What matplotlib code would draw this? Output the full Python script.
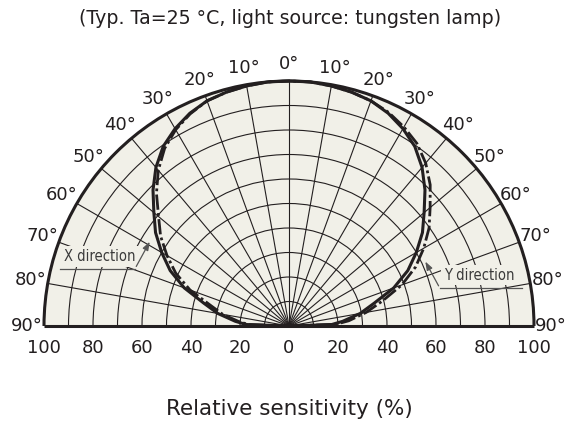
import numpy as np
import matplotlib.pyplot as plt
from matplotlib import font_manager
from matplotlib.patches import Wedge, Arc

# angle from the 0° axis (deg), negative = left half
angles = [-90, -88, -85, -80, -75, -70, -65, -60, -55, -50, -45, -40, -35, -30, -25, -20, -15, -10, -5,
          0, 5, 10, 15, 20, 25, 30, 35, 40, 45, 50, 55, 60, 65, 70, 75, 80, 85, 88, 90]

# relative sensitivity (%)
x_direction = [0, 17.5, 22, 29.5, 36, 45.5, 53.5, 60, 66.5, 72, 78.5, 84.5, 89.5, 93, 95.8, 97.8, 98.8, 99.5, 100,
               100, 100, 99.5, 98.8, 97.8, 95.8, 93, 89.5, 84.5, 78.5, 72, 66.5, 60, 53.5, 45.5, 36, 29.5, 22, 17.5, 0]
y_direction = [0, 16.5, 20.5, 27.5, 33.5, 43, 51, 57.5, 64, 69.5, 76.5, 83, 88.5, 92.5, 95.5, 97.8, 98.8, 99.5, 100,
               100, 100, 99.5, 98.8, 97.8, 96.2, 93.8, 91, 86.8, 81.5, 75.2, 69.8, 63.5, 57, 49, 39.5, 32, 24.5, 19, 0]

grid_angles = [-80, -70, -60, -50, -40, -30, -20, -10, 0, 10, 20, 30, 40, 50, 60, 70, 80]
grid_radii = [10, 20, 30, 40, 50, 60, 70, 80, 90]
angle_labels = [-90, -80, -70, -60, -50, -40, -30, -20, -10, 0, 10, 20, 30, 40, 50, 60, 70, 80, 90]
bottom_ticks = [-100, -80, -60, -40, -20, 0, 20, 40, 60, 80, 100]

ink = '#231f20'
paper = '#f1f0e8'


def to_xy(theta_deg, r):
    t = np.radians(np.asarray(theta_deg, dtype=float))
    r = np.asarray(r, dtype=float)
    return r * np.sin(t), r * np.cos(t)


# narrow font for the direction labels, if one is installed
narrow = None
for key in ['LiberationSansNarrow-Regular', 'DejaVuSansCondensed.ttf']:
    for f in font_manager.fontManager.ttflist:
        if key in f.fname:
            narrow = f.fname
            break
    if narrow:
        break
if narrow and 'Liberation' in narrow:
    lab_font = font_manager.FontProperties(fname=narrow, size=12)
elif narrow:
    lab_font = font_manager.FontProperties(fname=narrow, size=10.5)
else:
    lab_font = font_manager.FontProperties(family='DejaVu Sans', size=9.5)

fig = plt.figure(figsize=(5.72, 4.26), dpi=100)
ax = fig.add_axes([0, 0, 1, 1])
ax.set_xlim(-289 / 2.45, 283 / 2.45)
ax.set_ylim(-100 / 2.45, 326 / 2.45)
ax.axis('off')

# background half disc
ax.add_patch(Wedge((0, 0), 100, 0, 180, facecolor=paper, edgecolor='none', zorder=0))

# grid
for rr in grid_radii:
    ax.add_patch(Arc((0, 0), 2 * rr, 2 * rr, theta1=0, theta2=180, color=ink, lw=0.8, zorder=1))
for a in grid_angles:
    gx, gy = to_xy([a, a], [0, 100])
    ax.plot(gx, gy, color=ink, lw=0.8, zorder=1)

# outer frame
ax.add_patch(Arc((0, 0), 200, 200, theta1=0, theta2=180, color=ink, lw=2.2, zorder=5))
ax.plot([-100, 100], [0, 0], color=ink, lw=2.2, zorder=5, solid_capstyle='butt')

# curves
cx, cy = to_xy(angles, x_direction)
ax.plot(cx, cy, color=ink, lw=2.2, zorder=4)
cx, cy = to_xy(angles, y_direction)
ax.plot(cx, cy, color=ink, lw=2.0, ls=(0, (5.5, 1.2, 1, 1.2)), zorder=4)

# angle labels
for a in angle_labels:
    lx, ly = to_xy(a, 107)
    ax.text(lx, ly, f'{abs(a)}°', ha='center', va='center', fontsize=13, color=ink)

# bottom scale
for v in bottom_ticks:
    ax.text(v, -8.8, f'{abs(v)}', ha='center', va='center', fontsize=13, color=ink)

# direction labels
ax.text(-77.4, 28.2, 'X direction', ha='center', va='center', color='#3a3a3a',
        fontproperties=lab_font, zorder=2,
        bbox=dict(boxstyle='square,pad=0.2', facecolor=paper, edgecolor='none'))
ax.plot([-93.5, -62.9], [23.3, 23.3], color='#555555', lw=0.9, zorder=3)
ax.annotate('', xy=(-56.3, 35.4), xytext=(-62.9, 23.3),
            arrowprops=dict(arrowstyle='-|>,head_length=0.5,head_width=0.18', color='#555555', lw=0.9),
            zorder=3)

ax.text(77.6, 20.8, 'Y direction', ha='center', va='center', color='#3a3a3a',
        fontproperties=lab_font, zorder=2,
        bbox=dict(boxstyle='square,pad=0.2', facecolor=paper, edgecolor='none'))
ax.plot([61.6, 94.9], [15.4, 15.4], color='#555555', lw=0.9, zorder=3)
ax.annotate('', xy=(55.1, 27.3), xytext=(61.6, 15.4),
            arrowprops=dict(arrowstyle='-|>,head_length=0.5,head_width=0.18', color='#555555', lw=0.9),
            zorder=3)

fig.text(290 / 572, 1 - 18 / 426, '(Typ. Ta=25 °C, light source: tungsten lamp)',
         ha='center', va='center', fontsize=13.7, color=ink)
fig.text(289 / 572, 1 - 409 / 426, 'Relative sensitivity (%)',
         ha='center', va='center', fontsize=15.5, color=ink)

fig.savefig('out.png', dpi=100)
